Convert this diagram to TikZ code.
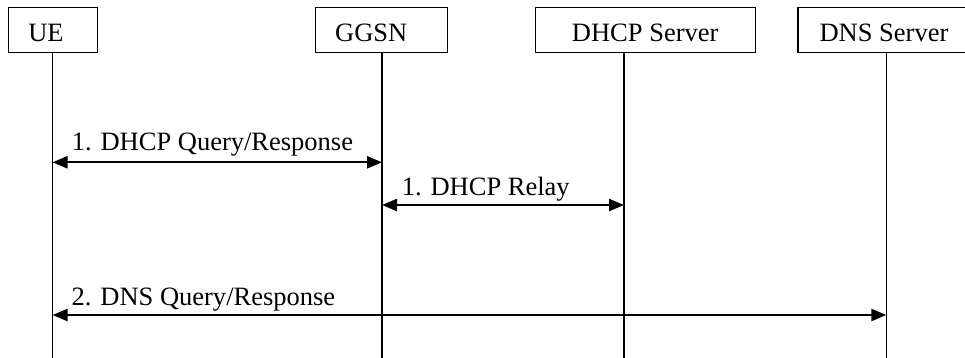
\documentclass[tikz,border=0pt]{standalone}
\usepackage{fontspec}
\setmainfont{Liberation Serif}
\usetikzlibrary{arrows.meta}
\begin{document}
\begin{tikzpicture}[x=1pt,y=-1pt,
  entity/.style={draw,line width=1.3pt,minimum height=45pt,inner ysep=0pt,
    text height=24.4pt,text depth=0pt,font=\fontsize{26.5}{30}\selectfont},
  lifeline/.style={line width=1.3pt},
  msg/.style={line width=2.4pt,{Triangle[length=15pt,width=12pt]}-{Triangle[length=15pt,width=12pt]}},
  msglabel/.style={anchor=base west,inner sep=0pt,font=\fontsize{26.5}{30}\selectfont}]
\useasboundingbox (0,0) rectangle (965,358);
\clip (0,0) rectangle (965,358);

% participants
\node[entity,minimum width=89pt,inner xsep=0pt,text width=49pt,align=left,
      xshift=0pt] (ue) at (52.8,29.8) {\hspace*{0pt}UE};
\node[entity,minimum width=132pt,inner xsep=0pt,text width=93pt,align=left] (ggsn) at (381.7,29.8) {GGSN};
\node[entity,minimum width=220pt,align=center] (dhcp) at (645.2,29.8) {DHCP Server};
\node[entity,minimum width=172pt,align=center] (dns) at (884,29.8) {DNS Server};

% lifeline tops and the bottom edge
\coordinate (bottom) at (0,358);
\coordinate (lue) at (52.5,52.3);
\coordinate (lggsn) at (382,52.3);
\coordinate (ldhcp) at (624,52.3);
\coordinate (ldns) at (886.3,52.3);

\draw[lifeline] (lue) -- (lue |- bottom);
\draw[lifeline] (lggsn) -- (lggsn |- bottom);
\draw[lifeline] (ldhcp) -- (ldhcp |- bottom);
\draw[lifeline] (ldns) -- (ldns |- bottom);

% message rows
\coordinate (r1) at (0,162.3);
\coordinate (r2) at (0,205);
\coordinate (r3) at (0,315);

\draw[msg] (lue |- r1) -- (lggsn |- r1);
\node[msglabel] (m1) at (71.7,150.7) {1. DHCP Query/Response};

\draw[msg] (lggsn |- r2) -- (ldhcp |- r2);
\node[msglabel] (m2) at (401.7,195) {1. DHCP Relay};

\draw[msg] (lue |- r3) -- (ldns |- r3);
\node[msglabel] (m3) at (71.5,305) {2. DNS Query/Response};
\end{tikzpicture}
\end{document}
